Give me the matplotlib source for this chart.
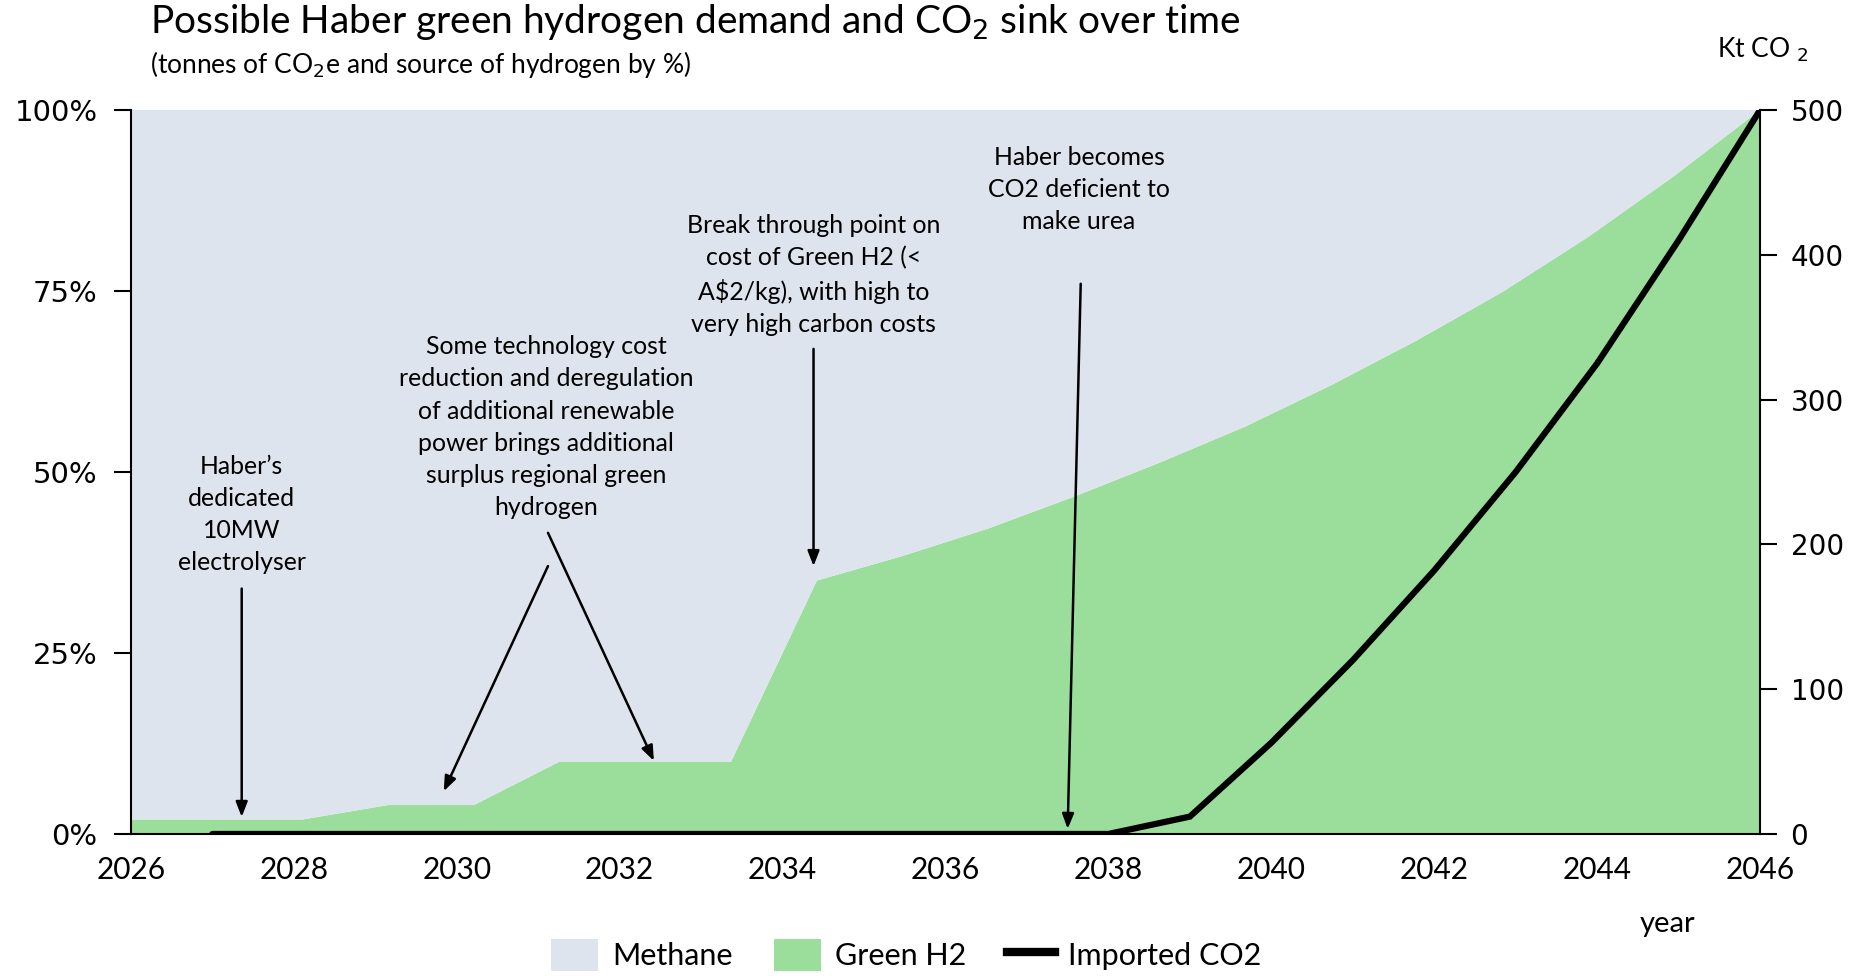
import numpy as np
import matplotlib
matplotlib.use("Agg")
import matplotlib.pyplot as plt
from matplotlib.patches import Patch
from matplotlib.lines import Line2D

plt.rcParams['font.family'] = ['Lato', 'DejaVu Sans']

# ---- data ----
years = list(range(2027, 2047))
green_h2_pct = [2, 2, 2, 4, 4, 10, 10, 10, 35, 38.4, 42.2, 46.6, 51.3, 56.3,
                62.0, 68.2, 74.9, 82.5, 90.9, 100]
methane_pct = [100 - g for g in green_h2_pct]
imported_co2_kt = [0, 0, 0, 0, 0, 0, 0, 0, 0, 0, 0, 0, 12, 63, 120, 182,
                   250, 325, 410, 500]
x_ticks = list(range(2026, 2047, 2))
pct_ticks = [0, 25, 50, 75, 100]
pct_labels = ['0%', '25%', '50%', '75%', '100%']
kt_ticks = [0, 100, 200, 300, 400, 500]

METHANE_C = '#DEE4EE'
GREEN_C = '#9BDD9A'

fig = plt.figure(figsize=(18.57, 9.76), dpi=100)
ax = fig.add_axes([0.0705, 0.1455, 0.8773, 0.7418])

# area series spread over the full axis width (category style)
xa = np.linspace(2026, 2046, len(green_h2_pct))
ax.stackplot(xa, green_h2_pct, methane_pct, colors=[GREEN_C, METHANE_C],
             linewidth=0)
ax.set_xlim(2026, 2046)
ax.set_ylim(0, 100)
ax.set_yticks(pct_ticks)
ax.set_yticklabels(pct_labels, fontfamily='DejaVu Sans', fontsize=21)
ax.set_xticks(x_ticks)
ax.set_xticklabels([str(t) for t in x_ticks], fontsize=21.5)
ax.tick_params(axis='x', length=0, pad=16)
ax.tick_params(axis='y', length=12, width=1.5, pad=12)
for s in ['top', 'right']:
    ax.spines[s].set_visible(False)
ax.spines['left'].set_linewidth(1.5)
ax.spines['bottom'].set_linewidth(1.5)

ax2 = ax.twinx()
ax2.plot(years, imported_co2_kt, color='black', lw=4.5, solid_capstyle='round',
         solid_joinstyle='miter')
ax2.set_ylim(0, 500)
ax2.set_yticks(kt_ticks)
ax2.set_yticklabels([str(t) for t in kt_ticks], fontfamily='DejaVu Sans', fontsize=20)
ax2.tick_params(axis='y', length=12, width=1.5, pad=10)
for s in ['top', 'left', 'bottom']:
    ax2.spines[s].set_visible(False)
ax2.spines['right'].set_linewidth(1.5)

# annotations
ann_fs = 17.9
ls = 1.48
arrowprops = dict(arrowstyle='-|>,head_length=0.9,head_width=0.35', color='black',
                  lw=1.8, shrinkA=0, shrinkB=0)
T = ax.transData
ax2.text(2027.36, 44.1, "Haber\u2019s\ndedicated\n10MW\nelectrolyser", transform=T,
         ha='center', va='center', fontsize=ann_fs, linespacing=ls)
ax2.annotate('', xy=(2027.36, 2.35), xytext=(2027.36, 33.9), xycoords=T,
             textcoords=T, arrowprops=arrowprops)

ax2.text(2031.1, 56.2, "Some technology cost\nreduction and deregulation\nof additional renewable\n"
         "power brings additional\nsurplus regional green\nhydrogen", transform=T,
         ha='center', va='center', fontsize=ann_fs, linespacing=ls)
ax2.annotate('', xy=(2029.84, 5.9), xytext=(2031.12, 37.0), xycoords=T,
             textcoords=T, arrowprops=arrowprops)
ax2.annotate('', xy=(2032.42, 10.1), xytext=(2031.12, 41.6), xycoords=T,
             textcoords=T, arrowprops=arrowprops)

ax2.text(2034.38, 77.2, "Break through point on\ncost of Green H2 (<\nA$2/kg), with high to\n"
         "very high carbon costs", transform=T,
         ha='center', va='center', fontsize=ann_fs, linespacing=ls)
ax2.annotate('', xy=(2034.38, 37.0), xytext=(2034.38, 67.0), xycoords=T,
             textcoords=T, arrowprops=arrowprops)

ax2.text(2037.64, 89.0, "Haber becomes\nCO2 deficient to\nmake urea", transform=T,
         ha='center', va='center', fontsize=ann_fs, linespacing=ls)
ax2.annotate('', xy=(2037.50, 0.7), xytext=(2037.66, 76.0), xycoords=T,
             textcoords=T, arrowprops=arrowprops)

# titles
fig.text(150 / 1857, 1 - 22 / 976, "Possible Haber green hydrogen demand and CO$_2$ sink over time",
         fontsize=28, ha='left', va='center')
fig.text(150 / 1857, 1 - 65 / 976, "(tonnes of CO$_2$e and source of hydrogen by %)",
         fontsize=19, ha='left', va='center')
fig.text(1808 / 1857, 1 - 50 / 976, "Kt CO $_2$", fontsize=19, ha='right', va='center')
fig.text(1668 / 1857, 1 - 924 / 976, "year", fontsize=21, ha='center', va='center')

handles = [Patch(facecolor=METHANE_C, edgecolor='none', label='Methane'),
           Patch(facecolor=GREEN_C, edgecolor='none', label='Green H2'),
           Line2D([0], [0], color='black', lw=6, label='Imported CO2')]
fig.legend(handles=handles, loc='center', bbox_to_anchor=(0.488, 0.0215), ncol=3,
           frameon=False, fontsize=22, handlelength=1.55, handleheight=1.2,
           columnspacing=1.35, handletextpad=0.45)

fig.savefig('out.png', dpi=100)
